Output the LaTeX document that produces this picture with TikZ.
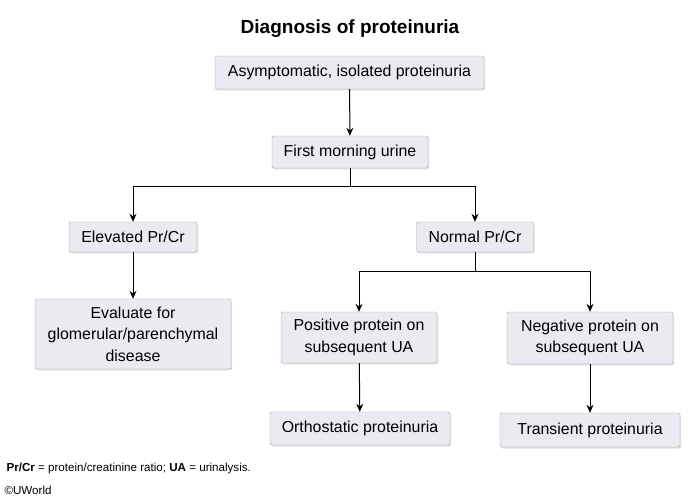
\documentclass[tikz,border=0pt]{standalone}
\usepackage{fontspec}
\setmainfont{Liberation Sans}
\usetikzlibrary{shadows,arrows.meta}
\definecolor{boxfill}{HTML}{E9EBF0}
\definecolor{boxline}{HTML}{A8A8A8}

\begin{document}
\begin{tikzpicture}[x=1pt,y=1pt,
    box/.style={draw=boxline, fill=boxfill, rounded corners=2pt, align=center, inner sep=0pt,
        font=\fontsize{15.9}{21.5}\selectfont,
        drop shadow={shadow xshift=1pt, shadow yshift=-1.5pt, fill=black!25}},
    arr/.style={-{Stealth[length=8pt,width=7pt]}, line width=1pt},
    link/.style={line width=1pt}]
        \useasboundingbox (0,0) rectangle (700,500);

        % title
        \node[font=\fontsize{19}{22}\selectfont\bfseries] (title) at (350,471) {Diagnosis of proteinuria};

        % boxes
        \node[box, minimum width=269, minimum height=33] (asym) at (349.5,427.5) {Asymptomatic, isolated proteinuria};
        \node[box, minimum width=156, minimum height=32] (morning) at (350,348) {First morning urine};
        \node[box, minimum width=128, minimum height=30] (elev) at (133,263) {Elevated Pr/Cr};
        \node[box, minimum width=117, minimum height=30] (normal) at (475,263) {Normal Pr/Cr};
        \node[box, minimum width=196, minimum height=70] (eval) at (133,166) {Evaluate for\\glomerular/parenchymal\\disease};
        \node[box, minimum width=156, minimum height=51] (pos) at (359,162.5) {Positive protein on\\subsequent UA};
        \node[box, minimum width=166, minimum height=52] (neg) at (590,162) {Negative protein on\\subsequent UA};
        \node[box, minimum width=180, minimum height=33] (ortho) at (360,71.5) {Orthostatic proteinuria};
        \node[box, minimum width=180, minimum height=34] (trans) at (590,70) {Transient proteinuria};

        % splits
        \coordinate (split1) at (350,313);
        \coordinate (split2) at (475,228);

        % arrows
        \draw[arr] (asym) -- (morning);
        \draw[link] (morning) -- (split1);
        \draw[arr] (split1) -| (elev);
        \draw[arr] (split1) -| (normal);
        \draw[arr] (elev) -- (eval);
        \draw[link] (normal) -- (split2);
        \draw[arr] (split2) -| (pos);
        \draw[arr] (split2) -| (neg);
        \draw[arr] (pos) -- (ortho);
        \draw[arr] (neg) -- (trans);

        % footnote
        \node[anchor=west, font=\fontsize{11.6}{13}\selectfont] (note) at (3,31) {\textbf{Pr/Cr} = protein/creatinine ratio; \textbf{UA} = urinalysis.};
        \node[anchor=west, font=\fontsize{11.6}{13}\selectfont] (copy) at (1,10) {©UWorld};
\end{tikzpicture}
\end{document}
